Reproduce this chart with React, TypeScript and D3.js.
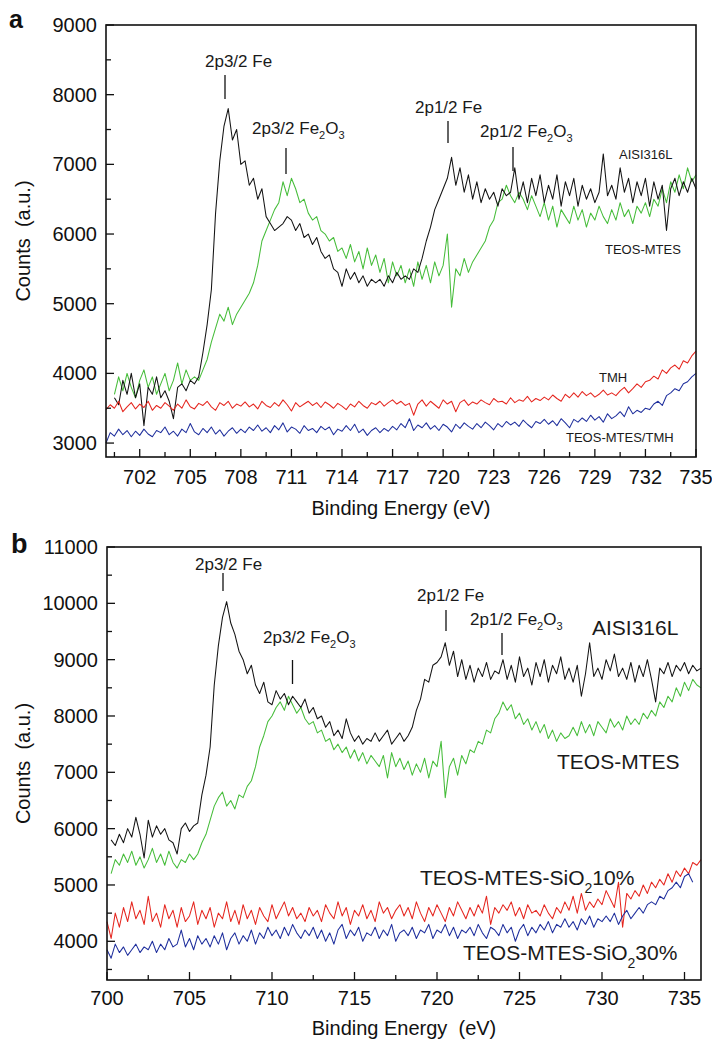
import React from 'react';
import * as d3 from 'd3';

const FONT = "'Liberation Sans', Arial, Helvetica, sans-serif";
const STEP = 0.25;

// ---------- Panel a data (Counts, sampled every 0.25 eV) ----------
const aisiA_start = 700.5;
const aisiA = [
  3650, 3550, 3900, 3700, 4000, 3650, 3850,
  3250, 3800, 3700, 3950, 3650, 3750, 3600, 3350,
  3800, 3850, 3750, 3900, 3850, 3950,
  4300, 4700, 5200, 6300, 7050, 7550, 7800, 7350, 7500, 7000,
  7050, 6700, 6800, 6500, 6650, 6250, 6150, 6050,
  6100, 6150, 6250, 6200, 6050, 6150, 5950, 6000,
  5850, 5950, 5750, 5650, 5700, 5500, 5450, 5250,
  5500, 5350, 5450, 5300, 5400, 5250, 5350, 5300,
  5350, 5250, 5400, 5300, 5450, 5350, 5400, 5350,
  5500, 5450, 5650, 5900, 6100, 6350, 6500, 6650,
  6800, 7100, 6700, 6950, 6600, 6850, 6500, 6750,
  6450, 6650, 6500, 6600, 6400, 6650, 6550, 6600,
  6950, 6500, 6750, 6450, 6800, 6550, 6850, 6450,
  6700, 6500, 6850, 6400, 6750, 6550, 6800, 6400,
  6700, 6500, 6650, 6450, 6600, 7150, 6550, 6700,
  6500, 6950, 6600, 6800, 6450, 6750, 6550, 6800,
  6400, 6750, 6500, 6700, 6050, 6650, 6800, 6550,
  6750, 6600, 6800, 6650,
];
const teosA_start = 700.5;
const teosA = [
  3700, 3950, 3750, 4000, 3800, 3650, 3900, 4050, 3800, 3950, 3700,
  3850, 4000, 3750, 3900, 4150, 3850, 4050, 3900, 3950, 3900,
  4050, 4200, 4450, 4650, 4850, 4750, 4950, 4700, 4850, 4950,
  5050, 5150, 5300, 5550, 5900, 6050, 6200, 6350,
  6450, 6750, 6550, 6800, 6650, 6450, 6500, 6300,
  6200, 6250, 6050, 6000, 5900, 5950, 5750, 5800,
  5650, 5850, 5600, 5750, 5500, 5800, 5550, 5700,
  5450, 5650, 5300, 5600, 5400, 5550, 5300, 5500,
  5250, 5600, 5350, 5550, 5300, 5600, 5400, 5550,
  6000, 4950, 5500, 5400, 5650, 5450, 5600, 5700,
  5800, 5900, 6100, 6200, 6450, 6500, 6700, 6550,
  6450, 6600, 6500, 6350, 6550, 6400, 6250, 6450,
  6200, 6400, 6100, 6350, 6250, 6150, 6400, 6200,
  6350, 6100, 6300, 6200, 6400, 6250, 6150, 6350,
  6200, 6450, 6250, 6350, 6150, 6400, 6300, 6450,
  6250, 6500, 6400, 6650, 6450, 6750, 6600, 6850,
  6650, 6950, 6750, 6850,
];
const tmhA_start = 700.0;
const tmhA = [
  3480, 3550, 3500, 3600, 3450, 3520, 3580, 3490, 3560,
  3510, 3600, 3470, 3540, 3500, 3580, 3530, 3470,
  3560, 3500, 3620, 3520, 3490, 3570, 3540, 3600,
  3520, 3470, 3580, 3540, 3600, 3500, 3560, 3530,
  3590, 3520, 3560, 3490, 3600, 3540, 3510, 3580,
  3530, 3620, 3550, 3460, 3580, 3520, 3560, 3600,
  3540, 3580, 3510, 3590, 3550, 3500, 3570, 3530,
  3480, 3560, 3520, 3600, 3540, 3500, 3580, 3550,
  3600, 3530, 3580, 3620, 3560, 3600, 3540, 3570,
  3400, 3560, 3620, 3530, 3600, 3550, 3500, 3620,
  3560, 3600, 3450, 3580, 3620, 3540, 3590, 3560,
  3620, 3580, 3550, 3640, 3590, 3600, 3560, 3650,
  3580, 3620, 3600, 3670, 3590, 3640, 3610, 3660,
  3620, 3690, 3640, 3600, 3700, 3650, 3720, 3660,
  3740, 3680, 3720, 3660, 3700, 3760, 3690, 3720,
  3680, 3750, 3800, 3720, 3780, 3850, 3800, 3880,
  3900, 3960, 3920, 4050, 4000, 4080, 4120, 4060,
  4180, 4150, 4250, 4320,
];
const teosTmhA_start = 700.0;
const teosTmhA = [
  3000, 3150, 3100, 3200, 3120, 3180, 3090, 3170, 3110,
  3200, 3130, 3090, 3180, 3150, 3230, 3120, 3170,
  3100, 3200, 3150, 3280, 3160, 3120, 3210, 3150,
  3230, 3130, 3190, 3100, 3170, 3220, 3140, 3200,
  3150, 3230, 3180, 3260, 3170, 3220, 3150, 3250,
  3190, 3290, 3160, 3230, 3200, 3140, 3250, 3180,
  3210, 3150, 3240, 3190, 3230, 3120, 3200, 3170,
  3250, 3180, 3270, 3150, 3200, 3110, 3180, 3220,
  3150, 3210, 3170, 3240, 3190, 3280, 3220, 3350,
  3180, 3260, 3220, 3290, 3200, 3250, 3180, 3270,
  3230, 3160, 3270, 3210, 3290, 3240, 3200, 3280,
  3220, 3300, 3250, 3190, 3280, 3230, 3310, 3260,
  3300, 3240, 3330, 3270, 3220, 3310, 3280, 3340,
  3270, 3320, 3250, 3350, 3290, 3220, 3340, 3300,
  3360, 3310, 3400, 3330, 3380, 3300, 3420, 3350,
  3390, 3450, 3380, 3520, 3420, 3470, 3440, 3500,
  3480, 3560, 3600, 3540, 3680, 3720, 3780, 3750,
  3850, 3880, 3950, 4000,
];

// ---------- Panel b data ----------
const aisiB_start = 700.25;
const aisiB = [
  5800, 5700, 5900, 5750, 6000, 5850, 6200, 5900, 5480, 6150, 5850,
  6050, 5900, 6000, 5800, 5750, 5550, 6000, 6100, 5950, 6050,
  6100, 6600, 6950, 7450, 8550, 9250, 9750, 10030, 9650, 9450, 9150,
  9000, 8750, 8900, 8550, 8400, 8600, 8250, 8200,
  8450, 8300, 8400, 8200, 8350, 8250, 8150, 8300,
  8050, 8150, 7950, 8000, 7800, 7900, 7650, 7750,
  7600, 7950, 7700, 7550, 7650, 7500, 7600, 7550,
  7700, 7550, 7650, 7750, 7500, 7600, 7700, 7550,
  7650, 7800, 8100, 8300, 8650, 8600, 8900, 8950,
  9050, 9300, 8900, 9150, 8700, 9000, 8650, 8900,
  8600, 8850, 8700, 8950, 8650, 8800, 8750, 9000,
  8650, 8900, 8600, 9050, 8700, 8850, 8550, 8950,
  8700, 9000, 8600, 8900, 8750, 9050, 8650, 8850,
  8600, 8900, 8350, 8750, 9300, 8700, 8850, 8650,
  9000, 8800, 9100, 8700, 8850, 8650, 8950, 8600,
  8900, 8700, 9000, 8650, 8250, 8850, 8750, 8950,
  8700, 8900, 8800, 8950, 8750, 8900, 8800, 8850,
];
const teosB_start = 700.25;
const teosB = [
  5200, 5450, 5350, 5550, 5400, 5600, 5350, 5500, 5300, 5450, 5650,
  5400, 5550, 5350, 5600, 5400, 5300, 5450, 5400, 5550, 5450,
  5550, 5750, 5900, 6150, 6400, 6550, 6650, 6400, 6500, 6350, 6600,
  6550, 6750, 6850, 7100, 7450, 7650, 7900, 8000,
  8150, 8250, 8100, 8350, 8200, 8050, 8150, 7950,
  7850, 7900, 7700, 7750, 7550, 7600, 7400, 7500,
  7350, 7450, 7250, 7400, 7200, 7350, 7150, 7300,
  7200, 7100, 7300, 6900, 7350, 7100, 7250, 7050,
  7200, 6950, 7150, 7000, 7250, 6900, 7200, 7100,
  7550, 6550, 7100, 7250, 6950, 7300, 7150, 7400,
  7350, 7550, 7500, 7750, 7700, 7950, 8050, 8250,
  8100, 8200, 7950, 8050, 7850, 7950, 7750, 7900,
  7700, 7850, 7600, 7750, 7550, 7700, 7600, 7650,
  7800, 7650, 7900, 7700, 7850, 7650, 7900, 7800,
  7700, 7950, 7800, 7900, 7750, 8000, 7850, 7950,
  7850, 8050, 7950, 8100, 8000, 8250, 8150, 8350,
  8250, 8500, 8350, 8600, 8450, 8650, 8550, 8500,
];
const sio10B_start = 700.0;
const sio10B = [
  4350, 4050, 4500, 4250, 4600, 4350, 4700, 4400, 4550,
  4300, 4800, 4350, 4500, 4250, 4650, 4400, 4550,
  4250, 4600, 4350, 4450, 4700, 4300, 4550, 4400,
  4600, 4250, 4500, 4400, 4700, 4350, 4550, 4300,
  4650, 4400, 4550, 4300, 4600, 4450, 4350, 4650,
  4400, 4550, 4700, 4450, 4600, 4400, 4500, 4350,
  4600, 4450, 4550, 4350, 4650, 4500, 4400, 4700,
  4450, 4600, 4300, 4550, 4450, 4650, 4400, 4550,
  4350, 4700, 4500, 4600, 4400, 4550, 4650, 4450,
  4600, 4400, 4700, 4500, 4350, 4600, 4450, 4650,
  4500, 4350, 4600, 4450, 4700, 4550, 4400, 4600,
  4450, 4650, 4500, 4800, 4300, 4600, 4500, 4650,
  4550, 4700, 4450, 4600, 4400, 4650, 4500, 4550,
  4450, 4650, 4500, 4400, 4600, 4500, 4700, 4550,
  4800, 4500, 4850, 4550, 4700, 4600, 4750, 4650,
  4900, 4750, 4600, 5050, 4250, 4850, 4750, 4900,
  4800, 5000, 4850, 5050, 4950, 5100, 5000, 5200,
  5050, 5250, 5150, 5300, 5200, 5400, 5350, 5450,
];
const sio30B_start = 700.0;
const sio30B = [
  3850, 3700, 3950, 3800, 3900, 3750, 3850, 3950, 3800,
  3900, 3850, 4000, 3800, 3950, 3850, 4050, 3900,
  3950, 4200, 3900, 4050, 3850, 4100, 3950, 4050,
  3900, 4100, 3950, 4150, 3850, 4050, 4150, 3950,
  4100, 4000, 4200, 3950, 4150, 4050, 4250, 4100,
  4200, 4050, 4250, 4100, 4300, 4150, 4050, 4200,
  4100, 4250, 4050, 4200, 4000, 4150, 3950, 4200,
  4300, 4050, 4200, 4100, 4250, 4000, 4150, 4100,
  4250, 4050, 4200, 4100, 4300, 4000, 4150, 4200,
  4100, 4250, 4050, 4200, 4150, 4300, 4050, 4200,
  4150, 4300, 4100, 4250, 4050, 4200, 4150, 4250,
  4100, 4300, 4150, 4050, 4250, 4200, 4100, 4300,
  4150, 4250, 4000, 4200, 4300, 4100, 4250, 4150,
  4300, 4200, 4350, 4150, 4300, 4250, 4400, 4250,
  4350, 4200, 4400, 4300, 4450, 4250, 4400, 4350,
  4450, 4350, 4500, 4300, 4450, 4550, 4400, 4500,
  4600, 4500, 4650, 4700, 4650, 4800, 4750, 4900,
  4950, 5050, 4950, 5150, 5200, 5050,
];

// ---------- Ticks ----------
const xTicksA = [702, 705, 708, 711, 714, 717, 720, 723, 726, 729, 732, 735];
const xMinorA = [700.5, 703.5, 706.5, 709.5, 712.5, 715.5, 718.5, 721.5, 724.5, 727.5, 730.5, 733.5];
const yTicksA = [3000, 4000, 5000, 6000, 7000, 8000, 9000];
const yMinorA = [3500, 4500, 5500, 6500, 7500, 8500];
const xTicksB = [700, 705, 710, 715, 720, 725, 730, 735];
const xMinorB = [702.5, 707.5, 712.5, 717.5, 722.5, 727.5, 732.5];
const yTicksB = [4000, 5000, 6000, 7000, 8000, 9000, 10000, 11000];
const yMinorB = [3500, 4500, 5500, 6500, 7500, 8500, 9500, 10500];

const C_BLACK = '#141414';
const C_GREEN = '#46bd3a';
const C_RED = '#e5261f';
const C_BLUE = '#1f2f9d';

type Series = { start: number; values: number[]; color: string };

type PanelProps = {
  left: number; right: number; top: number; bottom: number;
  xDomain: [number, number]; yDomain: [number, number];
  xTicks: number[]; xMinor: number[]; yTicks: number[]; yMinor: number[];
  series: Series[];
  tickLabelY: number; titleY: number; title: string;
  children?: (x: d3.ScaleLinear<number, number>, y: d3.ScaleLinear<number, number>) => React.ReactNode;
};

function Panel(p: PanelProps) {
  const x = d3.scaleLinear().domain(p.xDomain).range([p.left, p.right]);
  const y = d3.scaleLinear().domain(p.yDomain).range([p.bottom, p.top]);
  const line = d3
    .line<[number, number]>()
    .x((d) => x(d[0]))
    .y((d) => y(d[1]));
  return (
    <g>
      {p.series.map((s, i) => (
        <path
          key={i}
          d={line(s.values.map((v, j) => [s.start + j * STEP, v] as [number, number])) || ''}
          fill="none"
          stroke={s.color}
          strokeWidth={1.05}
          strokeLinejoin="round"
        />
      ))}
      <rect x={p.left} y={p.top} width={p.right - p.left} height={p.bottom - p.top} fill="none" stroke="#111" strokeWidth={1.6} />
      {p.xTicks.map((t) => (
        <g key={'xt' + t}>
          <line x1={x(t)} x2={x(t)} y1={p.bottom} y2={p.bottom - 8} stroke="#111" strokeWidth={1.3} />
          <text x={x(t)} y={p.tickLabelY} textAnchor="middle" fontSize={20} fontFamily={FONT} fill="#111">{t}</text>
        </g>
      ))}
      {p.xMinor.map((t) => (
        <line key={'xm' + t} x1={x(t)} x2={x(t)} y1={p.bottom} y2={p.bottom - 5} stroke="#111" strokeWidth={1.3} />
      ))}
      {p.yTicks.map((t) => (
        <g key={'yt' + t}>
          <line x1={p.left} x2={p.left + 8} y1={y(t)} y2={y(t)} stroke="#111" strokeWidth={1.3} />
          <text x={p.left - 9} y={y(t) + 7} textAnchor="end" fontSize={20} fontFamily={FONT} fill="#111">{t}</text>
        </g>
      ))}
      {p.yMinor.map((t) => (
        <line key={'ym' + t} x1={p.left} x2={p.left + 5} y1={y(t)} y2={y(t)} stroke="#111" strokeWidth={1.3} />
      ))}
      <text x={(p.left + p.right) / 2} y={p.titleY} textAnchor="middle" fontSize={20} fontFamily={FONT} fill="#111" style={{ whiteSpace: 'pre' }}>{p.title}</text>
      <text
        transform={`translate(30,${(p.top + p.bottom) / 2}) rotate(-90)`}
        textAnchor="middle"
        fontSize={20}
        fontFamily={FONT}
        fill="#111"
        style={{ whiteSpace: 'pre' }}
      >
        {'Counts  (a.u.)'}
      </text>
      {p.children ? p.children(x, y) : null}
    </g>
  );
}

function Ann({ x, y, text, sub, size, tickX, t1, t2 }: { x: number; y: number; text: string; sub?: boolean; size: number; tickX: number; t1: number; t2: number }) {
  const ss = Math.round(size * 0.62);
  return (
    <g>
      <text x={x} y={y} fontSize={size} fontFamily={FONT} fill="#1a1a1a">
        {text}
        {sub ? (
          <>
            <tspan dy={5} fontSize={ss}>2</tspan>
            <tspan dy={-5}>O</tspan>
            <tspan dy={5} fontSize={ss}>3</tspan>
          </>
        ) : null}
      </text>
      <line x1={tickX} x2={tickX} y1={t1} y2={t2} stroke="#111" strokeWidth={1.3} />
    </g>
  );
}

export default function App() {
  return (
    <svg width={712} height={1043} viewBox="0 0 712 1043" style={{ position: 'absolute', left: 0, top: 0, background: '#fff' }}>
      <rect x={0} y={0} width={712} height={1043} fill="#fff" />
      <text x={9} y={28} fontSize={25} fontWeight="bold" fontFamily={FONT} fill="#111">a</text>
      <Panel
        left={106} right={696} top={25} bottom={457}
        xDomain={[700, 735]} yDomain={[2800, 9000]}
        xTicks={xTicksA} xMinor={xMinorA} yTicks={yTicksA} yMinor={yMinorA}
        series={[
          { start: teosA_start, values: teosA, color: C_GREEN },
          { start: aisiA_start, values: aisiA, color: C_BLACK },
          { start: tmhA_start, values: tmhA, color: C_RED },
          { start: teosTmhA_start, values: teosTmhA, color: C_BLUE },
        ]}
        tickLabelY={484} titleY={515} title="Binding Energy (eV)"
      />
      <Ann x={205} y={67} text="2p3/2 Fe" size={17} tickX={225} t1={75} t2={99} />
      <Ann x={252} y={134} text="2p3/2 Fe" sub size={17} tickX={286} t1={148} t2={174} />
      <Ann x={415} y={113} text="2p1/2 Fe" size={17} tickX={448} t1={121} t2={143} />
      <Ann x={480} y={137} text="2p1/2 Fe" sub size={17} tickX={513} t1={147} t2={171} />
      <text x={619} y={159} fontSize={13} fontFamily={FONT} fill="#1a1a1a">AISI316L</text>
      <text x={605} y={254} fontSize={13} fontFamily={FONT} fill="#1a1a1a">TEOS-MTES</text>
      <text x={599} y={382} fontSize={13} fontFamily={FONT} fill="#1a1a1a">TMH</text>
      <text x={566} y={442} fontSize={13} fontFamily={FONT} fill="#1a1a1a">TEOS-MTES/TMH</text>

      <text x={11} y={553} fontSize={27} fontWeight="bold" fontFamily={FONT} fill="#111">b</text>
      <Panel
        left={107} right={701} top={547} bottom={980}
        xDomain={[700, 736]} yDomain={[3313, 11000]}
        xTicks={xTicksB} xMinor={xMinorB} yTicks={yTicksB} yMinor={yMinorB}
        series={[
          { start: teosB_start, values: teosB, color: C_GREEN },
          { start: aisiB_start, values: aisiB, color: C_BLACK },
          { start: sio10B_start, values: sio10B, color: C_RED },
          { start: sio30B_start, values: sio30B, color: C_BLUE },
        ]}
        tickLabelY={1005} titleY={1035} title="Binding Energy  (eV)"
      />
      <Ann x={195} y={570} text="2p3/2 Fe" size={17} tickX={223} t1={573} t2={591} />
      <Ann x={263} y={643} text="2p3/2 Fe" sub size={17} tickX={292.5} t1={660} t2={684} />
      <Ann x={417} y={601} text="2p1/2 Fe" size={17} tickX={446} t1={610} t2={631} />
      <Ann x={470} y={625} text="2p1/2 Fe" sub size={17} tickX={502} t1={633} t2={655} />
      <text x={592} y={635} fontSize={21} fontFamily={FONT} fill="#1a1a1a">AISI316L</text>
      <text x={557} y={769} fontSize={21} fontFamily={FONT} fill="#1a1a1a">TEOS-MTES</text>
      <text x={420} y={885} fontSize={21} fontFamily={FONT} fill="#1a1a1a">
        TEOS-MTES-SiO<tspan dy={8} fontSize={14}>2</tspan><tspan dy={-8}>10%</tspan>
      </text>
      <text x={463} y={960} fontSize={21} fontFamily={FONT} fill="#1a1a1a">
        TEOS-MTES-SiO<tspan dy={8} fontSize={14}>2</tspan><tspan dy={-8}>30%</tspan>
      </text>
    </svg>
  );
}
